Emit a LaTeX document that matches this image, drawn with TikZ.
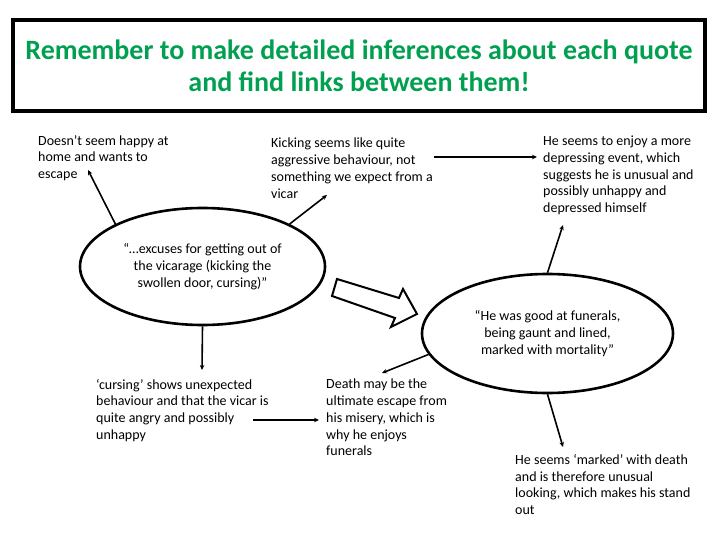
\documentclass[tikz,border=0pt]{standalone}
\usepackage{fontspec}
\setmainfont{Carlito}
\usetikzlibrary{arrows.meta,shapes.geometric}
\definecolor{TitleGreen}{RGB}{0, 160, 80}

\begin{document}
\begin{tikzpicture}[x=1pt, y=-1pt,
    note/.style={anchor=north west, inner sep=0pt, align=left, font=\fontsize{14}{16.7}\selectfont},
    quote/.style={draw, ellipse, line width=2.6pt, inner sep=0pt, align=center, font=\fontsize{14}{16.7}\selectfont},
    arr/.style={-{Stealth[length=5pt,width=4.5pt]}, line width=1.6pt}]

  \useasboundingbox (0,0) rectangle (720,540);

  \node[draw, line width=3.5pt, minimum width=692pt, minimum height=91pt, inner sep=0pt, align=center, text=TitleGreen, font=\bfseries\fontsize{28}{32}\selectfont] (title) at (359,65.5) {Remember to make detailed inferences about each quote\\and find links between them!};

  % the two quotes
  \node[quote, minimum width=245pt, minimum height=117pt] (q1) at (202.5,266.5) {“…excuses for getting out of\\the vicarage (kicking the\\swollen door, cursing)”};
  \node[quote, minimum width=251pt, minimum height=119pt] (q2) at (547.5,333.5) {“He was good at funerals,\\being gaunt and lined,\\marked with mortality”};

  % block arrow between them
  \draw[line width=2pt, line join=miter] (337,279) -- (399,298) -- (403,289) -- (417,314) -- (391,327) -- (395,318) -- (332,296) -- cycle;

  % inferences
  \node[note] (escape) at (38,135) {Doesn’t seem happy at\\home and wants to\\escape};
  \node[note] (kicking) at (271,138) {Kicking seems like quite\\aggressive behaviour, not\\something we expect from a\\vicar};
  \node[note] (enjoy) at (543,136) {He seems to enjoy a more\\depressing event, which\\suggests he is unusual and\\possibly unhappy and\\depressed himself};
  \node[note] (cursing) at (96,379) {‘cursing’ shows unexpected\\behaviour and that the vicar is\\quite angry and possibly\\unhappy};
  \node[note] (death) at (326,379) {Death may be the\\ultimate escape from\\his misery, which is\\why he enjoys\\funerals};
  \node[note] (marked) at (515,454) {He seems ‘marked’ with death\\and is therefore unusual\\looking, which makes his stand\\out};

  \coordinate (toescape) at (88,170);
  \coordinate (tokicking) at (327,195);
  \coordinate (fromkicking) at (434,157);
  \coordinate (toenjoy) at (563,225);
  \coordinate (tocursing) at (202,370);
  \coordinate (fromcursing) at (253,420);
  \coordinate (todeath) at (382,373);
  \coordinate (tomarked) at (563,447);

  \draw[arr] (q1.154) -- (toescape);
  \draw[arr] (q1.26) -- (tokicking);
  \draw[arr, shorten >=6pt] (fromkicking) -- (fromkicking -| enjoy.west);
  \draw[arr] (q2.north) -- (toenjoy);
  \draw[arr] (q1.south) -- (tocursing);
  \draw[arr, shorten >=7pt] (fromcursing) -- (fromcursing -| death.west);
  \draw[arr] (q2.190) -- (todeath);
  \draw[arr] (q2.south) -- (tomarked);
\end{tikzpicture}
\end{document}
